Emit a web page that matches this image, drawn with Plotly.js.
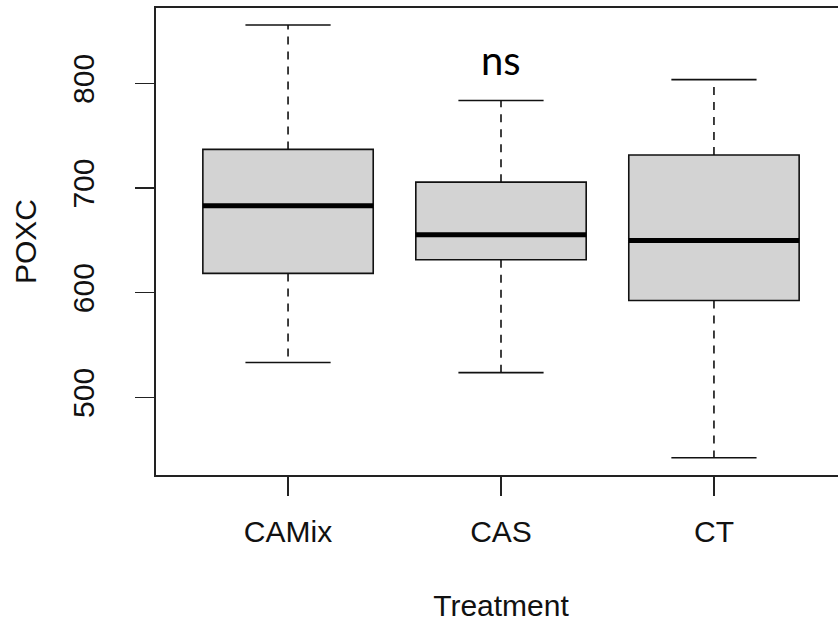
<!DOCTYPE html>
<html>
<head>
<meta charset="utf-8">
<script src="https://cdn.plot.ly/plotly-3.0.1.min.js"></script>
<style>
  html, body { margin: 0; padding: 0; overflow: hidden; background: #fff; }
  #chart { width: 860px; height: 624px; }
</style>
</head>
<body>
<div id="chart"></div>
<script>
// ---- data ----
const categories   = ['CAMix', 'CAS', 'CT'];
const upperWhisker = [855.7, 783.6, 803.6];
const q3Values     = [736.9, 705.6, 731.5];
const medianValues = [683.0, 655.3, 649.9];
const q1Values     = [618.4, 631.4, 592.5];
const lowerWhisker = [533.3, 523.6, 442.3];
const yTickValues  = [500, 600, 700, 800];
const annotationLabel = 'ns';
const annotationValue = 822;

// ---- build traces ----
const positions = categories.map((c, i) => i + 1);
const boxHalf = 0.4;   // boxwex 0.8
const capHalf = 0.2;   // staplewex

const boxTrace = {
  type: 'box',
  x: positions,
  q1: q1Values,
  median: medianValues,
  q3: q3Values,
  lowerfence: q1Values,
  upperfence: q3Values,
  width: boxHalf * 2,
  whiskerwidth: 0,
  fillcolor: '#d3d3d3',
  line: { color: '#111', width: 1.6 },
  boxpoints: false,
  hoverinfo: 'skip',
  showlegend: false
};

function segs(fn) {
  const xs = [], ys = [];
  positions.forEach((p, i) => {
    const s = fn(p, i);
    s.forEach(seg => { xs.push(seg[0], seg[2], null); ys.push(seg[1], seg[3], null); });
  });
  return { x: xs, y: ys };
}

const whiskerSegs = segs((p, i) => [
  [p, q3Values[i], p, upperWhisker[i]],
  [p, q1Values[i], p, lowerWhisker[i]]
]);
const whiskerTrace = {
  type: 'scatter', mode: 'lines', x: whiskerSegs.x, y: whiskerSegs.y,
  line: { color: '#111', width: 1.6, dash: '8px,7px' },
  hoverinfo: 'skip', showlegend: false
};

const capSegs = segs((p, i) => [
  [p - capHalf, upperWhisker[i], p + capHalf, upperWhisker[i]],
  [p - capHalf, lowerWhisker[i], p + capHalf, lowerWhisker[i]]
]);
const capTrace = {
  type: 'scatter', mode: 'lines', x: capSegs.x, y: capSegs.y,
  line: { color: '#111', width: 1.6 },
  hoverinfo: 'skip', showlegend: false
};

const medSegs = segs((p, i) => [
  [p - boxHalf, medianValues[i], p + boxHalf, medianValues[i]]
]);
const medianTrace = {
  type: 'scatter', mode: 'lines', x: medSegs.x, y: medSegs.y,
  line: { color: '#000', width: 5 },
  hoverinfo: 'skip', showlegend: false
};

const txtFont = { family: '"Liberation Sans", Arial, sans-serif', size: 30, color: '#111' };

const layout = {
  width: 860,
  height: 624,
  margin: { l: 156, r: 14, t: 8, b: 149 },
  paper_bgcolor: '#fff',
  plot_bgcolor: '#fff',
  showlegend: false,
  xaxis: {
    range: [0.38, 3.62],
    tickmode: 'array',
    tickvals: positions,
    ticktext: categories,
    ticks: 'outside', ticklen: 19, tickwidth: 1.6, tickcolor: '#222',
    showline: true, linecolor: '#222', linewidth: 1.6, mirror: true,
    showgrid: false, zeroline: false,
    tickfont: txtFont,
    ticklabelstandoff: 10,
    title: { text: 'Treatment', font: txtFont, standoff: 48 }
  },
  yaxis: {
    range: [425.8, 872.0],
    tickmode: 'array',
    tickvals: yTickValues,
    ticktext: yTickValues.map(String),
    tickangle: -90,
    ticks: 'outside', ticklen: 19, tickwidth: 1.6, tickcolor: '#222',
    showline: true, linecolor: '#222', linewidth: 1.6, mirror: true,
    showgrid: false, zeroline: false,
    tickfont: txtFont,
    ticklabelstandoff: 29,
    title: { text: 'POXC', font: txtFont, standoff: 22 }
  },
  annotations: [{
    x: positions[1], y: annotationValue, xref: 'x', yref: 'y',
    text: annotationLabel, showarrow: false,
    font: { family: 'Lato, "Open Sans", sans-serif', size: 40, color: '#000' },
    xanchor: 'center', yanchor: 'middle'
  }]
};

Plotly.newPlot('chart', [boxTrace, whiskerTrace, capTrace, medianTrace], layout, { staticPlot: true, displayModeBar: false });
</script>
</body>
</html>
